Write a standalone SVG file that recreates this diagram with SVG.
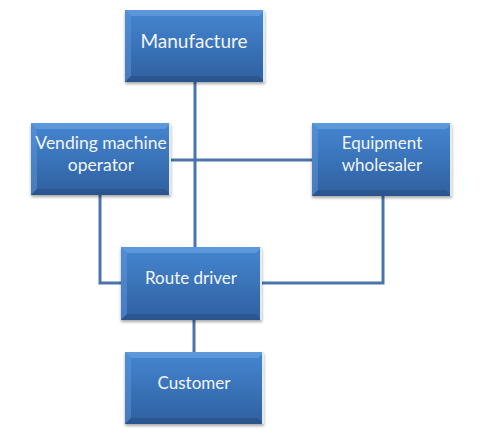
<svg xmlns="http://www.w3.org/2000/svg" width="483" height="435" viewBox="0 0 483 435">
<defs>
<linearGradient id="g" x1="0" y1="0" x2="0" y2="1">
<stop offset="0" stop-color="#4586d2"/>
<stop offset="1" stop-color="#2f609f"/>
</linearGradient>
<filter id="sh" x="-10%" y="-10%" width="120%" height="130%">
<feGaussianBlur in="SourceAlpha" stdDeviation="1.5"/>
<feOffset dx="0" dy="2" result="b"/>
<feComponentTransfer><feFuncA type="linear" slope="0.35"/></feComponentTransfer>
<feMerge><feMergeNode/><feMergeNode in="SourceGraphic"/></feMerge>
</filter>
</defs>
<style>
.box{fill:url(#g);filter:url(#sh)}
.top{fill:#6ea3e3;opacity:0.6}
.left{fill:#5d95db;opacity:0.5}
.bot{fill:#23497c;opacity:0.45}
.right{fill:#ffffff;opacity:0.85}
.lbl{font-family:Lato,"Open Sans","Liberation Sans",sans-serif;font-size:17px;fill:#f2f6fb;text-anchor:middle}
.c{fill:none;stroke:#4a74aa;stroke-width:3}
</style>
<g id="connectors">
<path class="c" d="M195 82 V247"/>
<path class="c" d="M171 160 H312"/>
<path class="c" d="M100 195 V283 H121"/>
<path class="c" d="M262 283 H383 V196"/>
<path class="c" d="M194 320 V352"/>
</g>
<g id="manufacture">
<rect class="box" x="125" y="10" width="140" height="72"/>
<polygon class="top" points="125,10 265,10 259,16 131,16"/>
<polygon class="left" points="125,10 131,16 131,76 125,82"/>
<polygon class="bot" points="125,82 131,76 259,76 265,82"/>
<rect class="right" x="263" y="10" width="2" height="72"/>
<text class="lbl" x="194" y="47.5" style="font-size:19px">Manufacture</text>
</g>
<g id="vending">
<rect class="box" x="31" y="123" width="140" height="72"/>
<polygon class="top" points="31,123 171,123 165,129 37,129"/>
<polygon class="left" points="31,123 37,129 37,189 31,195"/>
<polygon class="bot" points="31,195 37,189 165,189 171,195"/>
<rect class="right" x="169" y="123" width="2" height="72"/>
<text class="lbl" x="101" y="149" style="font-size:17.5px">Vending machine</text>
<text class="lbl" x="101" y="171" style="font-size:17.5px">operator</text>
</g>
<g id="equipment">
<rect class="box" x="312" y="123" width="140" height="73"/>
<polygon class="top" points="312,123 452,123 446,129 318,129"/>
<polygon class="left" points="312,123 318,129 318,190 312,196"/>
<polygon class="bot" points="312,196 318,190 446,190 452,196"/>
<rect class="right" x="450" y="123" width="2" height="73"/>
<text class="lbl" x="382" y="149">Equipment</text>
<text class="lbl" x="382" y="171">wholesaler</text>
</g>
<g id="route">
<rect class="box" x="121" y="247" width="141" height="73"/>
<polygon class="top" points="121,247 262,247 256,253 127,253"/>
<polygon class="left" points="121,247 127,253 127,314 121,320"/>
<polygon class="bot" points="121,320 127,314 256,314 262,320"/>
<rect class="right" x="260" y="247" width="2" height="73"/>
<text class="lbl" x="191" y="284">Route driver</text>
</g>
<g id="customer">
<rect class="box" x="125" y="352" width="139" height="72"/>
<polygon class="top" points="125,352 264,352 258,358 131,358"/>
<polygon class="left" points="125,352 131,358 131,418 125,424"/>
<polygon class="bot" points="125,424 131,418 258,418 264,424"/>
<rect class="right" x="262" y="352" width="2" height="72"/>
<text class="lbl" x="194" y="389">Customer</text>
</g>
</svg>
